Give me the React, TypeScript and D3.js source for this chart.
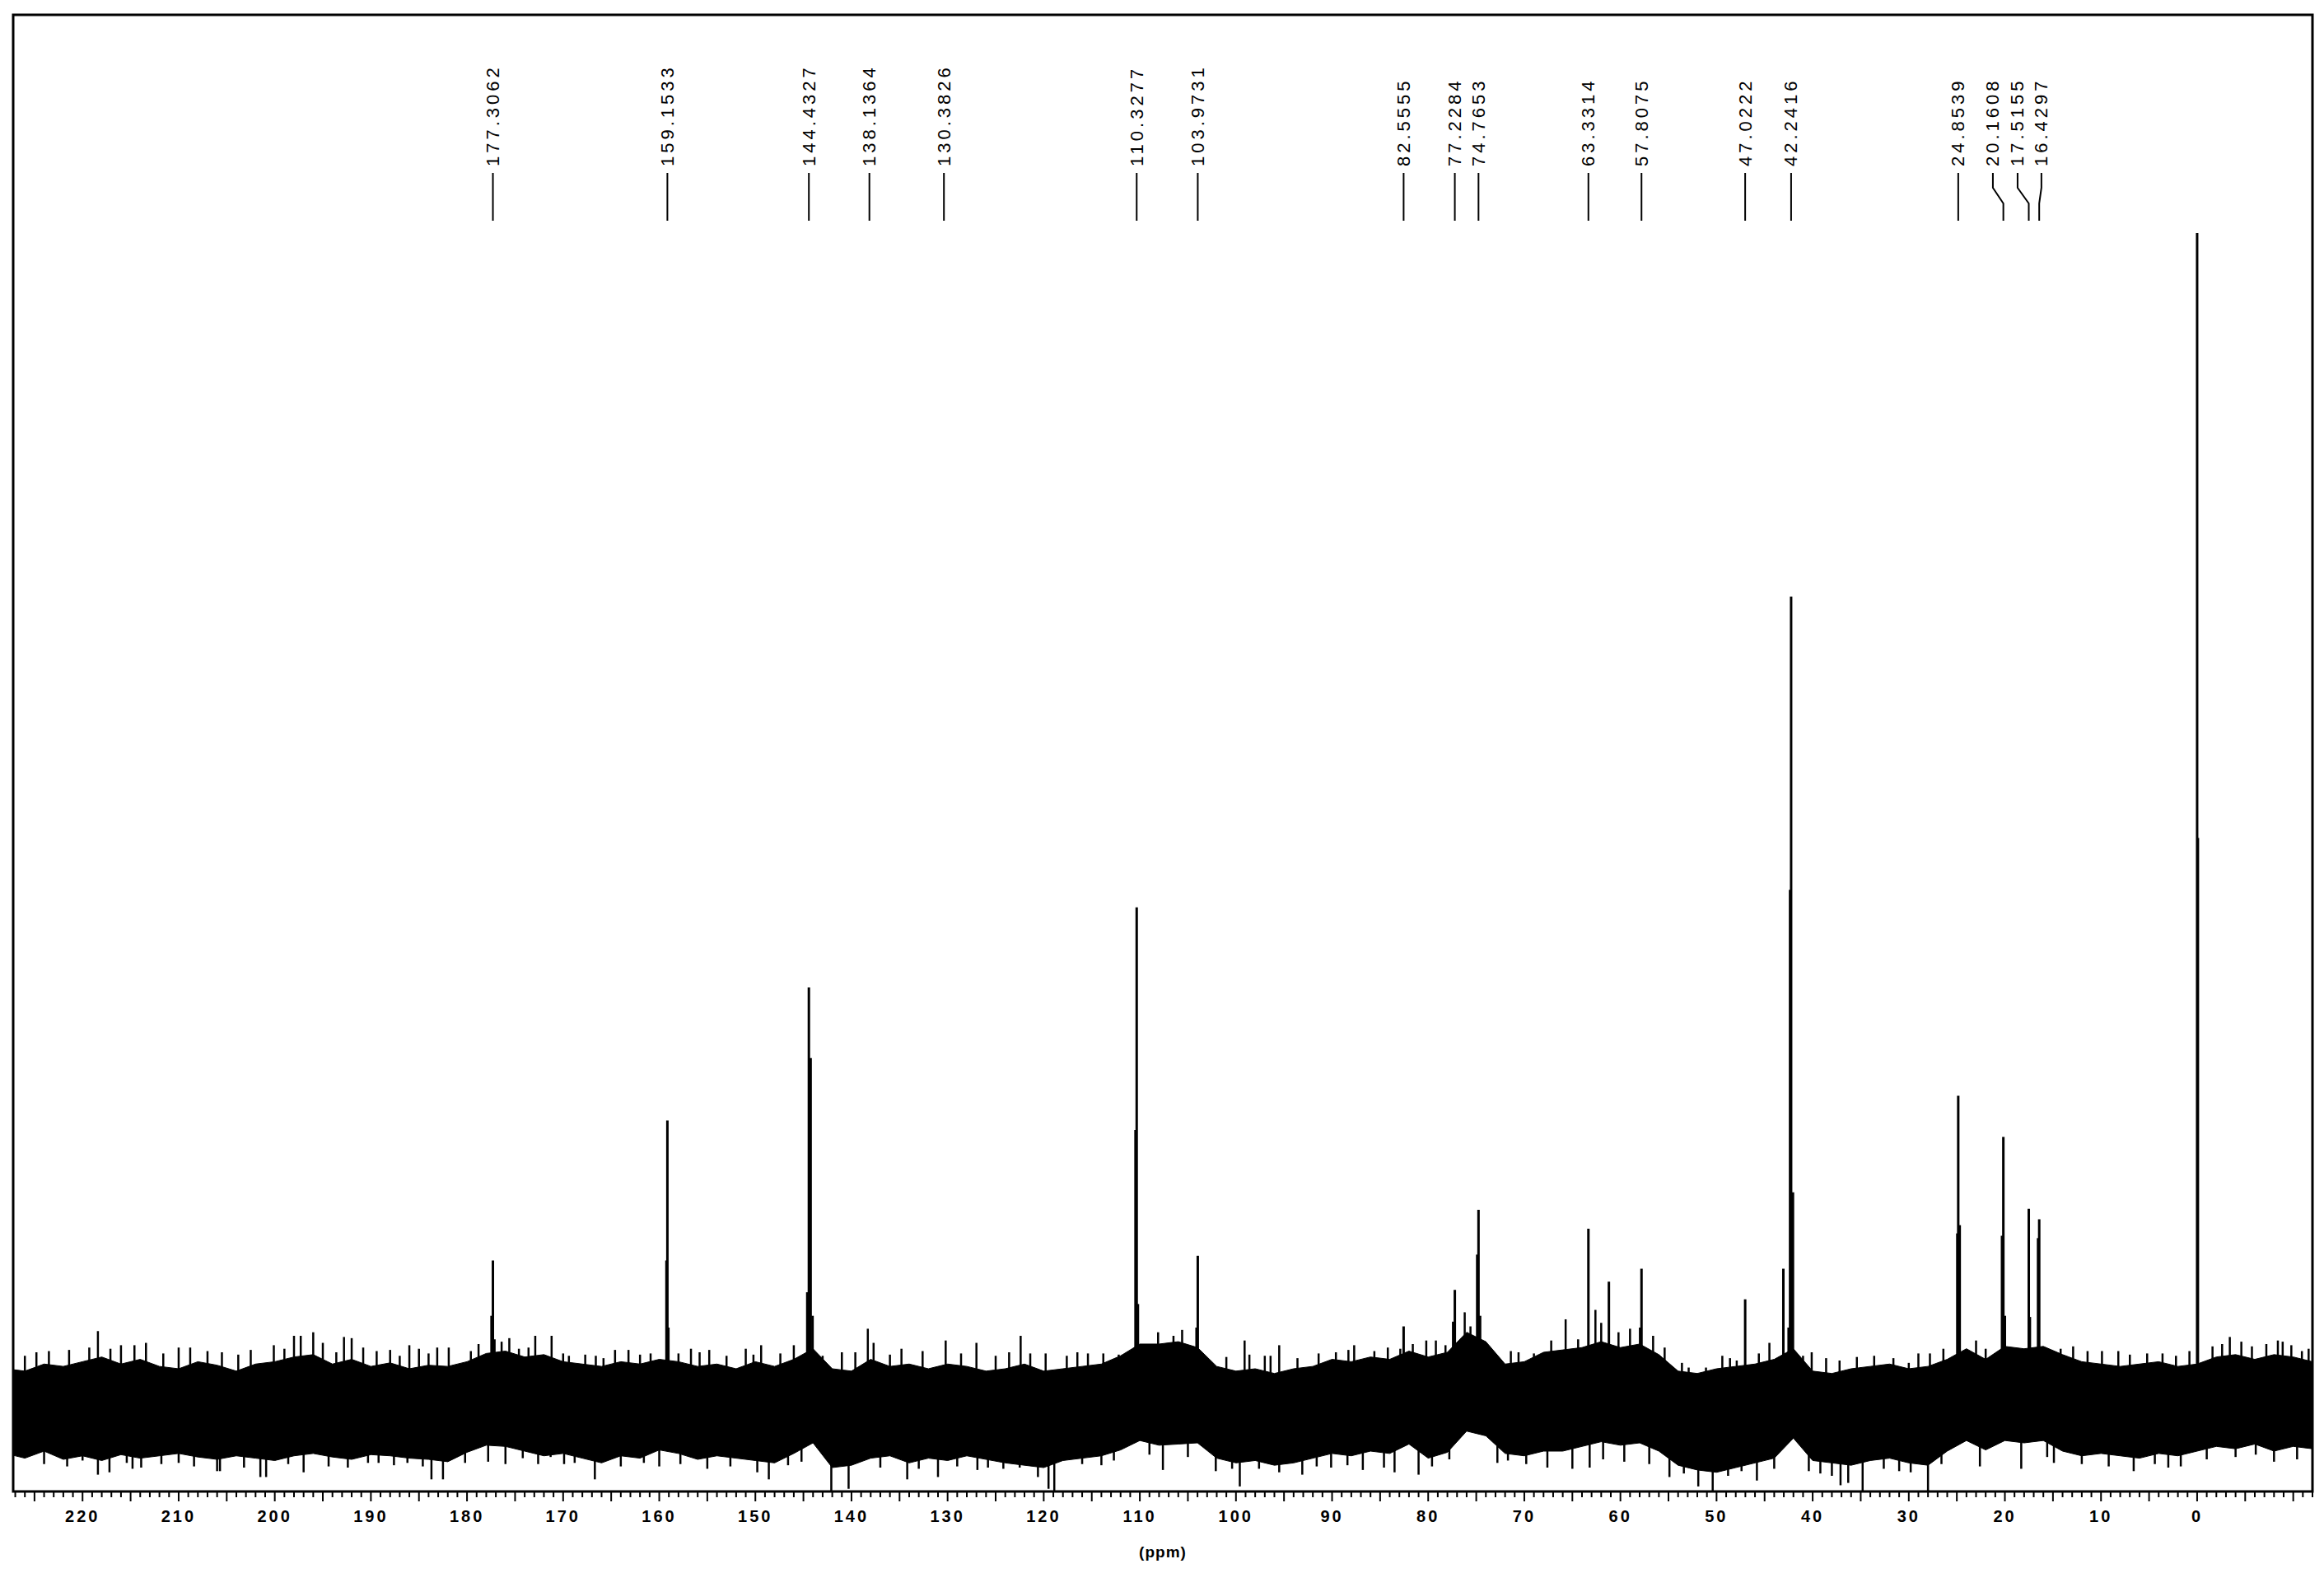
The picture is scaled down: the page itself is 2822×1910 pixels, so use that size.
import React from 'react';
import * as d3 from 'd3';

// ---------- data ----------
// noise band envelope (relative intensity, TMS = 100), sampled every 2 ppm
const noisePpm = [228,226,224,222,220,218,216,214,212,210,208,206,204,202,200,198,196,194,192,190,188,186,184,182,180,178,176,174,172,170,168,166,164,162,160,158,156,154,152,150,148,146,144,142,140,138,136,134,132,130,128,126,124,122,120,118,116,114,112,110,108,106,104,102,100,98,96,94,92,90,88,86,84,82,80,78,76,74,72,70,68,66,64,62,60,58,56,54,52,50,48,46,44,42,40,38,36,34,32,30,28,26,24,22,20,18,16,14,12,10,8,6,4,2,0,-2,-4,-6,-8,-10,-12];
const noiseUpper = [3.5,3.3,3.9,3.7,4.1,4.5,3.9,4.3,3.7,3.5,4.1,3.8,3.3,3.9,4.1,4.5,4.7,3.9,4.3,3.7,4.0,3.5,3.8,3.7,4.1,4.8,5.0,4.5,4.7,4.1,3.9,3.7,4.1,3.9,4.3,4.1,3.7,3.9,3.5,4.1,3.7,4.3,5.2,3.5,3.3,4.3,3.7,3.9,3.5,3.9,3.7,3.3,3.5,3.9,3.3,3.5,3.7,3.9,4.6,5.6,5.6,5.8,5.3,3.7,3.3,3.5,3.1,3.5,3.7,4.3,4.1,4.5,4.3,5.0,4.5,4.9,6.6,5.8,3.9,4.1,4.9,5.1,5.3,5.8,5.3,5.6,4.7,3.3,3.1,3.5,3.7,3.9,4.3,5.2,3.3,3.1,3.5,3.7,3.9,3.5,3.7,4.3,5.2,4.3,5.4,5.2,5.4,4.7,4.1,3.9,3.7,3.9,4.1,3.7,3.9,4.5,4.7,4.3,4.7,4.5,4.1];
const noiseLower = [-3.7,-4.1,-3.5,-4.2,-3.9,-4.3,-3.8,-4.1,-3.9,-3.7,-4.0,-4.2,-3.9,-4.1,-4.3,-3.9,-3.7,-4.0,-4.2,-3.8,-3.9,-4.1,-4.2,-4.4,-3.6,-3.0,-3.1,-3.5,-3.9,-3.7,-4.1,-4.5,-3.9,-4.1,-3.4,-3.7,-4.2,-3.9,-4.1,-4.3,-4.5,-3.7,-2.8,-4.9,-4.7,-4.1,-3.9,-4.5,-4.1,-4.3,-3.9,-4.2,-4.5,-4.7,-4.9,-4.3,-4.1,-3.9,-3.4,-2.6,-3.0,-2.9,-2.8,-4.1,-4.5,-4.3,-4.7,-4.5,-4.1,-3.7,-3.9,-3.5,-3.7,-2.9,-4.1,-3.6,-1.8,-2.2,-3.7,-3.9,-3.5,-3.5,-3.1,-2.7,-3.0,-2.8,-3.5,-4.7,-5.1,-5.3,-4.9,-4.5,-4.1,-2.4,-4.3,-4.5,-4.7,-4.3,-4.1,-4.5,-4.7,-3.5,-2.6,-3.4,-2.6,-2.8,-2.6,-3.5,-3.9,-3.7,-3.9,-4.1,-3.7,-3.9,-3.5,-3.1,-3.3,-2.9,-3.5,-3.1,-3.3];

// individual noise spikes reaching beyond the band
const spikeUpPpm = [226.0,224.8,223.5,221.4,219.3,218.4,217.1,216.0,214.6,213.4,211.6,210.0,208.8,207.0,205.5,203.8,202.5,200.1,199.0,198.0,197.3,196.0,195.0,193.6,192.8,192.0,190.8,189.4,188.0,187.0,186.0,185.0,184.0,183.1,181.9,179.6,178.8,176.4,175.6,174.6,173.6,172.9,171.2,170.0,169.4,167.7,166.6,165.8,164.6,163.2,162.0,160.9,158.0,156.7,155.8,154.8,153.0,151.0,150.2,149.4,147.4,146.0,143.0,141.0,139.6,138.3,137.7,136.0,134.8,132.6,130.2,128.6,127.0,125.0,123.6,122.4,121.4,119.8,117.6,116.5,115.4,113.8,112.2,108.1,106.5,105.6,101.0,99.1,98.6,97.0,96.4,95.5,93.6,91.4,89.6,88.3,87.7,85.6,84.2,82.9,81.6,80.2,79.2,78.2,76.2,75.6,73.4,71.4,70.6,69.0,67.2,65.7,64.4,62.6,62.0,60.2,59.0,56.6,55.4,53.6,52.9,51.1,49.4,48.6,47.9,45.6,44.5,41.0,40.1,38.6,37.2,35.4,33.6,31.6,30.0,29.0,27.8,26.4,23.0,22.0,18.7,14.2,12.9,11.4,9.9,8.2,7.0,5.2,3.6,2.2,0.8,-1.6,-2.6,-3.4,-4.6,-5.7,-7.2,-8.4,-8.9,-9.8,-10.9,-11.6];
const spikeUpVal = [4.6,4.9,5.0,5.1,5.3,6.7,5.2,5.5,5.5,5.7,4.8,5.3,5.3,5.0,4.9,4.7,5.1,5.5,5.2,6.3,6.3,6.6,5.7,4.9,6.2,6.1,5.3,5.0,5.1,4.6,5.5,5.2,4.8,5.3,5.3,5.0,5.6,5.8,6.1,5.2,5.3,6.3,6.3,4.8,4.6,4.7,4.6,4.4,5.1,5.1,4.7,4.8,4.8,5.2,4.9,5.1,4.6,5.2,4.7,5.5,4.8,5.5,4.6,4.9,4.9,6.9,5.7,4.7,5.2,5.0,5.9,4.8,5.7,4.6,4.9,6.3,4.8,4.8,4.6,4.9,4.8,4.8,4.7,6.6,6.3,6.8,4.5,5.9,4.7,4.6,4.6,5.5,4.4,4.8,4.9,5.1,5.5,5.0,5.3,5.2,5.6,5.9,5.9,5.5,8.3,7.1,5.0,5.0,4.9,4.8,5.9,7.7,6.0,8.5,7.4,6.6,6.9,6.3,5.3,4.0,3.6,3.6,4.6,4.4,4.2,4.8,5.7,4.6,4.9,4.4,4.2,4.5,4.6,4.4,4.0,4.8,4.8,5.2,5.9,5.2,5.0,5.2,5.4,5.0,5.0,5.0,4.7,4.8,4.8,4.6,5.0,5.4,5.6,6.2,5.8,5.4,5.6,5.9,5.8,5.5,5.0,5.2];
const spikeDownPpm = [224.0,221.6,220.0,218.4,217.2,215.4,214.8,213.9,211.8,210.0,208.4,206.0,205.7,203.2,201.5,200.9,198.6,197.0,194.4,192.4,190.3,189.2,187.6,186.2,184.6,183.7,182.5,180.2,177.8,176.0,174.2,172.6,171.3,169.9,168.8,166.7,164.0,161.6,160.0,157.8,155.0,152.6,149.8,148.6,146.6,145.2,142.1,140.3,137.0,134.2,133.0,131.0,129.0,126.9,125.8,124.2,122.5,120.6,119.5,118.9,116.0,114.0,112.7,109.0,107.6,105.0,102.1,100.4,99.6,97.6,95.5,93.1,91.6,90.1,88.4,86.8,84.6,83.5,81.0,79.6,77.8,72.8,71.7,69.8,67.6,65.0,63.2,61.8,59.6,57.0,54.9,53.4,51.9,50.4,48.8,47.4,45.8,44.0,40.4,39.2,38.0,37.1,36.3,34.8,32.6,31.0,29.8,28.0,26.6,22.6,18.3,15.6,14.9,12.0,9.2,6.6,4.4,3.0,1.7,-1.0,-4.0,-6.1,-8.0,-10.4];
const spikeDownVal = [-4.6,-4.8,-4.3,-5.5,-5.3,-4.5,-5.0,-4.9,-4.6,-4.5,-4.8,-5.2,-5.2,-4.9,-5.7,-5.7,-4.6,-5.3,-4.8,-4.9,-4.5,-4.5,-4.7,-4.5,-4.8,-5.9,-5.9,-4.5,-4.4,-4.6,-4.1,-4.6,-4.0,-4.6,-4.5,-5.9,-4.8,-4.5,-4.8,-4.6,-5.0,-4.8,-5.3,-5.9,-4.7,-4.4,-6.9,-6.7,-4.9,-5.9,-5.0,-5.7,-4.8,-5.1,-4.9,-5.0,-4.9,-5.7,-6.7,-6.9,-4.6,-4.7,-4.3,-3.8,-5.1,-4.0,-5.2,-5.0,-6.5,-5.0,-5.3,-5.5,-4.8,-4.9,-4.7,-5.1,-4.9,-5.3,-5.5,-4.8,-4.2,-4.5,-4.3,-4.6,-4.9,-5.0,-4.9,-4.2,-4.4,-4.6,-5.7,-5.4,-6.5,-6.9,-5.6,-5.2,-6.0,-5.0,-5.2,-5.4,-5.6,-6.4,-6.2,-6.9,-5.0,-5.2,-5.3,-6.9,-4.6,-4.8,-5.0,-4.0,-4.5,-4.6,-4.8,-5.2,-4.6,-4.9,-4.8,-4.2,-4.0,-3.8,-4.4,-4.2];

// signal lines (ppm, relative intensity) including shoulders
const peakPpm = [177.45,177.3062,177.15,159.25,159.1533,159.05,144.6,144.4327,144.25,144.05,110.45,110.3277,110.2,104.1,103.9731,82.5555,77.4,77.2284,74.9,74.7653,74.6,63.3314,61.2,57.95,57.8075,47.0222,43.05,42.5,42.35,42.2416,42.05,24.95,24.8539,24.7,20.3,20.1608,20.0,17.5155,17.4,16.55,16.4297,0.0,-0.08];
const peakVal = [8.0,12.7,6.0,12.7,24.6,7.0,10.0,35.9,29.9,8.0,23.8,42.7,9.0,7.0,13.1,7.1,7.5,10.2,13.2,17.0,8.0,15.4,10.9,7.0,12.0,9.4,12.0,7.0,44.2,69.1,18.5,15.0,26.7,15.7,14.8,23.2,8.0,17.1,7.9,14.6,16.2,100,48.6];

// peak annotations
const labelText = ['177.3062','159.1533','144.4327','138.1364','130.3826','110.3277','103.9731','82.5555','77.2284','74.7653','63.3314','57.8075','47.0222','42.2416','24.8539','20.1608','17.5155','16.4297'];
const labelPpm = [177.3062,159.1533,144.4327,138.1364,130.3826,110.3277,103.9731,82.5555,77.2284,74.7653,63.3314,57.8075,47.0222,42.2416,24.8539,20.1608,17.5155,16.4297];
const labelAt = [177.3062,159.1533,144.4327,138.1364,130.3826,110.3277,103.9731,82.5555,77.2284,74.7653,63.3314,57.8075,47.0222,42.2416,24.8539,21.25,18.68,16.2];

const tickLabels = [220,210,200,190,180,170,160,150,140,130,120,110,100,90,80,70,60,50,40,30,20,10,0];
const axisTitle = '(ppm)';

export default function App() {
  const W = 2822, H = 1910;
  const left = 16, right = 2808, top = 18, axisY = 1811;
  const x = d3.scaleLinear().domain([227.217, -12.0]).range([left, right]);
  const y = d3.scaleLinear().domain([0, 100]).range([1712, 283]);

  const idx = d3.range(Math.min(noisePpm.length, noiseUpper.length, noiseLower.length));
  const band = d3.area<number>()
    .x((i) => x(noisePpm[i]))
    .y0((i) => y(noiseLower[i]))
    .y1((i) => y(noiseUpper[i]))(idx) || '';

  const minorTicks = d3.range(-12, 228).filter((v) => v <= 227.217);
  const font = 'Liberation Sans, Arial, sans-serif';

  // label leader geometry
  const lineTop = 210, kinkA = 228, kinkB = 247, lineBottom = 268, textStart = 202;

  return (
    <svg width={W} height={H} style={{ position: 'absolute', left: 0, top: 0, background: '#fff' }}>
      <rect x={0} y={0} width={W} height={H} fill="#fff" />
      <defs>
        <clipPath id="plot">
          <rect x={left} y={top} width={right - left} height={axisY - top} />
        </clipPath>
      </defs>
      <g clipPath="url(#plot)">
        <path d={band} fill="#000" stroke="#000" strokeWidth={1} />
        {spikeUpPpm.map((p, i) => (
          <line key={'su' + i} x1={x(p)} x2={x(p)} y1={y(0)} y2={y(spikeUpVal[i])} stroke="#000" strokeWidth={2.5} />
        ))}
        {spikeDownPpm.map((p, i) => (
          <line key={'sd' + i} x1={x(p)} x2={x(p)} y1={y(0)} y2={y(spikeDownVal[i])} stroke="#000" strokeWidth={2.5} />
        ))}
        {peakPpm.map((p, i) => (
          <line key={'pk' + i} x1={x(p)} x2={x(p)} y1={y(-1.5)} y2={y(peakVal[i])} stroke="#000" strokeWidth={3} />
        ))}
      </g>

      {/* frame */}
      <rect x={left} y={top} width={right - left} height={axisY - top} fill="none" stroke="#000" strokeWidth={3} />

      {/* ticks */}
      {minorTicks.map((v) => {
        const major = v % 5 === 0;
        return (
          <line key={'t' + v} x1={x(v)} x2={x(v)} y1={axisY} y2={axisY + (major ? 12 : 7)} stroke="#000" strokeWidth={2} />
        );
      })}
      {tickLabels.map((v) => (
        <text key={'tl' + v} x={x(v)} y={1848} textAnchor="middle" fontFamily={font} fontWeight="bold"
          fontSize={20} letterSpacing={3} fill="#000">{String(v)}</text>
      ))}
      <text x={(left + right) / 2} y={1891} textAnchor="middle" fontFamily={font} fontSize={19} fontWeight="bold"
        letterSpacing={1} fill="#000">{axisTitle}</text>

      {/* peak labels */}
      {labelText.map((t, i) => {
        const xa = x(labelAt[i]);
        const xp = x(labelPpm[i]);
        const d = Math.abs(xa - xp) < 1.5
          ? `M${xp},${lineTop}V${lineBottom}`
          : `M${xa},${lineTop}V${kinkA}L${xp},${kinkB}V${lineBottom}`;
        return (
          <g key={'lb' + i}>
            <path d={d} fill="none" stroke="#000" strokeWidth={2} />
            <text transform={`translate(${xa},${textStart}) rotate(-90)`} textAnchor="start" dominantBaseline="central"
              fontFamily={font} fontSize={22} letterSpacing={4} fill="#000">{t}</text>
          </g>
        );
      })}
    </svg>
  );
}
